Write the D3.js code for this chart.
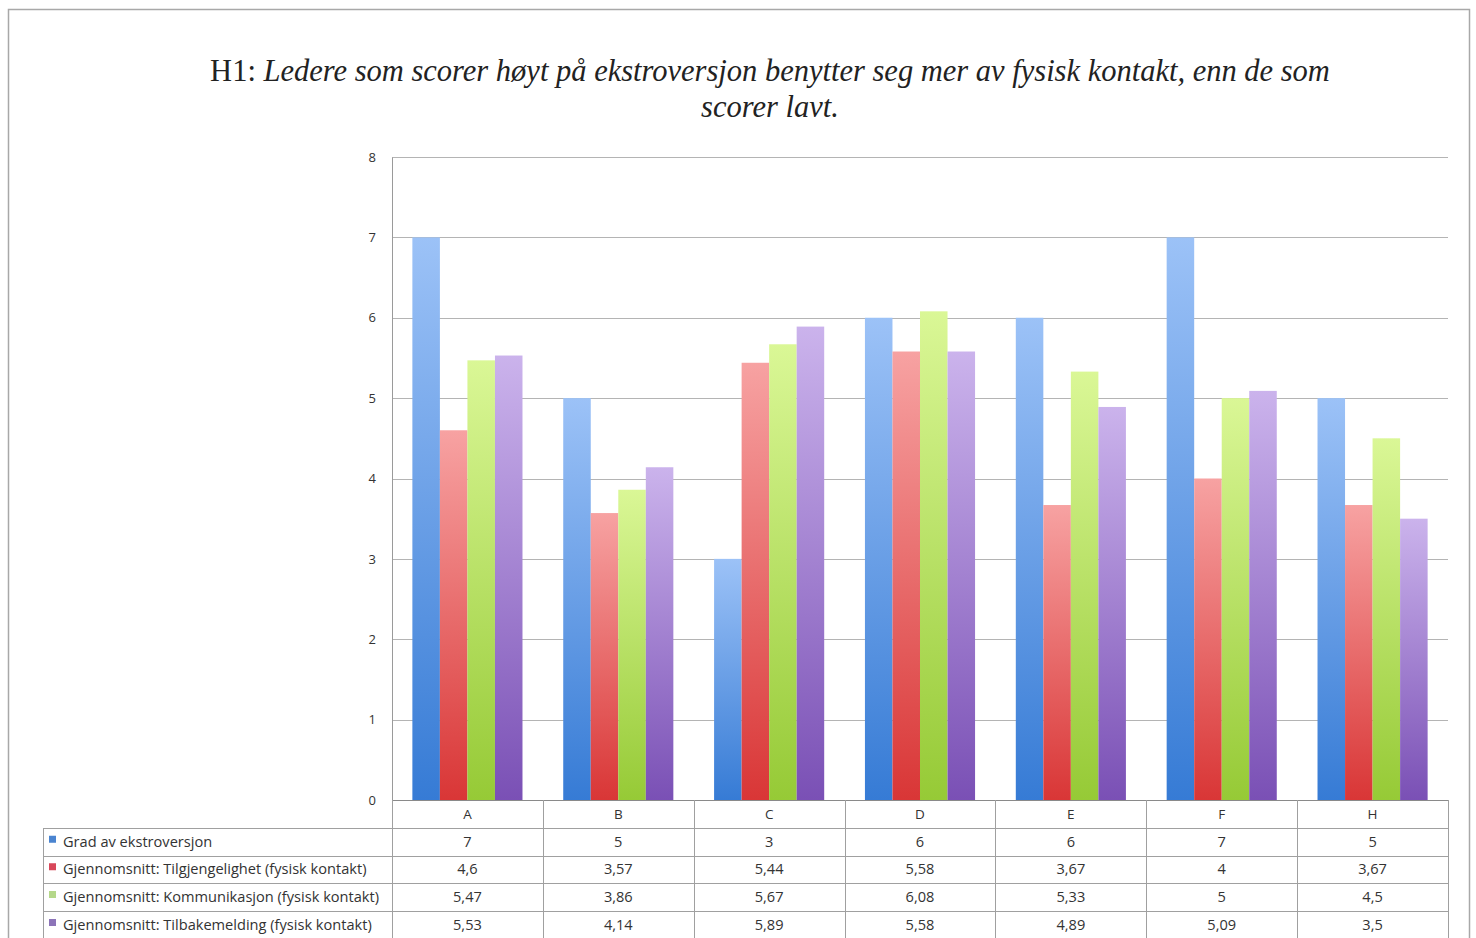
<!DOCTYPE html>
<html>
<head>
<meta charset="utf-8">
<script src="https://cdn.jsdelivr.net/npm/d3@7"></script>
<style>
  html, body { margin: 0; padding: 0; background: #fff; }
  svg { display: block; }
</style>
</head>
<body>
<svg id="chart" width="1476" height="938"></svg>
<script>
// Leaders A–H: extraversion score and average physical-contact scores
const categories = ["A", "B", "C", "D", "E", "F", "H"];
const seriesNames = [
  "Grad av ekstroversjon",
  "Gjennomsnitt: Tilgjengelighet (fysisk kontakt)",
  "Gjennomsnitt: Kommunikasjon (fysisk kontakt)",
  "Gjennomsnitt: Tilbakemelding (fysisk kontakt)"
];
const ekstroversjon   = [7, 5, 3, 6, 6, 7, 5];
const tilgjengelighet = [4.6, 3.57, 5.44, 5.58, 3.67, 4, 3.67];
const kommunikasjon   = [5.47, 3.86, 5.67, 6.08, 5.33, 5, 4.5];
const tilbakemelding  = [5.53, 4.14, 5.89, 5.58, 4.89, 5.09, 3.5];
const yTicks = [0, 1, 2, 3, 4, 5, 6, 7, 8];

const seriesValues = [ekstroversjon, tilgjengelighet, kommunikasjon, tilbakemelding];
const colorTop    = ["#9cc2f7", "#f7a2a2", "#daf796", "#cbb3ec"];
const colorBottom = ["#367bd5", "#d93636", "#96ca36", "#7a50b5"];
const swatch      = ["#4a84d0", "#d8475a", "#b5d88a", "#8c74b8"];

const svg = d3.select("#chart");
const W = 1476, H = 938;

// outer frame
svg.append("rect")
  .attr("x", 8.5).attr("y", 9.5).attr("width", 1461).attr("height", 940)
  .attr("fill", "#fff").attr("stroke", "#a8a8a8").attr("stroke-width", 1.5);

// title
const title = svg.append("text")
  .attr("text-anchor", "middle")
  .attr("font-family", "'Liberation Serif', 'Times New Roman', serif")
  .attr("font-size", 30.5)
  .attr("fill", "#222");
const t1 = title.append("tspan").attr("x", 770).attr("y", 81);
t1.append("tspan").text("H1: ");
t1.append("tspan").attr("font-style", "italic")
  .text("Ledere som scorer høyt på ekstroversjon benytter seg mer av fysisk kontakt, enn de som");
title.append("tspan").attr("x", 770).attr("y", 117).attr("font-style", "italic")
  .text("scorer lavt.");

// plot geometry
const plot = { left: 392, right: 1448, top: 157, bottom: 800 };

const x = d3.scaleBand().domain(categories).range([plot.left, plot.right]).paddingInner(0).paddingOuter(0);
const inner = d3.scaleBand().domain(d3.range(seriesValues.length))
  .range([0, x.bandwidth()]).paddingOuter(0.74).paddingInner(0);
const y = d3.scaleLinear().domain([0, 8]).range([plot.bottom, plot.top]);

// gradients
const defs = svg.append("defs");
seriesValues.forEach((_, i) => {
  const g = defs.append("linearGradient").attr("id", "grad" + i)
    .attr("x1", 0).attr("y1", 0).attr("x2", 0).attr("y2", 1);
  g.append("stop").attr("offset", "0%").attr("stop-color", colorTop[i]);
  g.append("stop").attr("offset", "100%").attr("stop-color", colorBottom[i]);
});

// gridlines
svg.append("g")
  .selectAll("line").data(yTicks.filter(d => d > 0)).join("line")
  .attr("x1", plot.left).attr("x2", plot.right)
  .attr("y1", d => Math.round(y(d)) + 0.5).attr("y2", d => Math.round(y(d)) + 0.5)
  .attr("stroke", "#b4b4b4").attr("stroke-width", 1.2);

// y axis
const yAxis = svg.append("g")
  .attr("transform", `translate(${plot.left},0)`)
  .call(d3.axisLeft(y).tickValues(yTicks).tickSize(0).tickPadding(16).tickFormat(d3.format("d")));
yAxis.select(".domain").attr("stroke", "#9a9a9a");
yAxis.selectAll("text")
  .attr("font-family", "'Open Sans', 'Liberation Sans', sans-serif")
  .attr("font-size", 13).attr("fill", "#333");

// bars
const groups = svg.append("g").selectAll("g").data(categories).join("g")
  .attr("transform", d => `translate(${x(d)},0)`);
groups.selectAll("rect")
  .data((d, ci) => seriesValues.map((vals, si) => ({ si, v: vals[ci] })))
  .join("rect")
  .attr("x", d => inner(d.si))
  .attr("width", inner.bandwidth())
  .attr("y", d => y(d.v))
  .attr("height", d => y(0) - y(d.v))
  .attr("fill", d => `url(#grad${d.si})`);

// data table
const rowTops = [800, 828, 855.5, 883, 911, 939];
const tableLeft = 43;
const tbl = svg.append("g");
const lineColor = "#a0a0a0";
const tableFont = "'Open Sans', 'Liberation Sans', sans-serif";
const tableSize = 14.6;

// horizontal lines: header row spans only the value columns
tbl.append("line").attr("x1", plot.left).attr("x2", plot.right)
  .attr("y1", rowTops[0] + 0.5).attr("y2", rowTops[0] + 0.5).attr("stroke", "#8a8a8a");
rowTops.slice(1).forEach(t => {
  tbl.append("line").attr("x1", tableLeft).attr("x2", plot.right)
    .attr("y1", Math.round(t) + 0.5).attr("y2", Math.round(t) + 0.5).attr("stroke", lineColor);
});
// vertical lines
tbl.append("line").attr("x1", tableLeft + 0.5).attr("x2", tableLeft + 0.5)
  .attr("y1", rowTops[1]).attr("y2", H).attr("stroke", lineColor);
categories.forEach(c => {
  tbl.append("line").attr("x1", Math.round(x(c)) + 0.5).attr("x2", Math.round(x(c)) + 0.5)
    .attr("y1", rowTops[0]).attr("y2", H).attr("stroke", lineColor);
});
tbl.append("line").attr("x1", plot.right + 0.5).attr("x2", plot.right + 0.5)
  .attr("y1", rowTops[0]).attr("y2", H).attr("stroke", lineColor);

// category header
tbl.selectAll("text.cat").data(categories).join("text")
  .attr("class", "cat")
  .attr("x", d => x(d) + x.bandwidth() / 2)
  .attr("y", (rowTops[0] + rowTops[1]) / 2 + 5)
  .attr("text-anchor", "middle")
  .attr("font-family", tableFont).attr("font-size", 13.5).attr("fill", "#333")
  .text(d => d);

const fmt = v => String(v).replace(".", ",");
seriesNames.forEach((name, si) => {
  const cy = (rowTops[si + 1] + rowTops[si + 2]) / 2;
  tbl.append("rect").attr("x", 49).attr("y", cy - 6).attr("width", 7).attr("height", 7)
    .attr("fill", swatch[si]);
  tbl.append("text").attr("x", 63).attr("y", cy + 5)
    .attr("font-family", tableFont).attr("font-size", tableSize).attr("fill", "#333")
    .text(name);
  tbl.selectAll(null).data(seriesValues[si]).join("text")
    .attr("x", (d, ci) => x(categories[ci]) + x.bandwidth() / 2)
    .attr("y", cy + 5)
    .attr("text-anchor", "middle")
    .attr("font-family", tableFont).attr("font-size", tableSize).attr("fill", "#333")
    .text(d => fmt(d));
});
</script>
</body>
</html>
